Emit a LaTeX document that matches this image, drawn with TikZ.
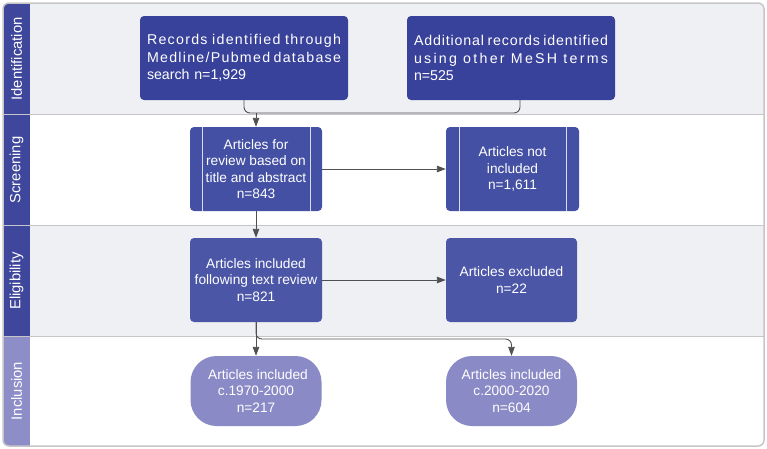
\documentclass[tikz,border=0pt]{standalone}
\usepackage{fontspec}
\setmainfont{Liberation Sans}
\usetikzlibrary{arrows.meta,calc}
\definecolor{lanegray}{HTML}{EFF0F4}
\definecolor{laneline}{HTML}{C6C6C8}
\definecolor{labdark}{HTML}{3E479C}
\definecolor{lablight}{HTML}{8D8DC8}
\definecolor{boxA}{HTML}{39429A}
\definecolor{boxC}{HTML}{4450A3}
\definecolor{boxE}{HTML}{4B56A7}
\definecolor{boxG}{HTML}{8A8AC6}
\definecolor{conncol}{HTML}{505050}
\tikzset{
  lanelabel/.style={rotate=90,text=white,font=\fontsize{14.8}{16}\selectfont},
  basebox/.style={text=white,inner sep=0pt,align=center,font=\fontsize{13.7}{16.5}\selectfont,rounded corners=4pt},
  topbox/.style={basebox,fill=boxA,minimum width=208pt,minimum height=84pt,align=left,text width=194pt,font=\fontsize{14.2}{17.6}\selectfont},
  midbox/.style={basebox,fill=#1,minimum width=132pt,minimum height=84pt},
  incbox/.style={basebox,fill=boxG,minimum width=131pt,minimum height=70pt,rounded corners=26pt},
  conn/.style={draw=conncol,line width=0.9pt},
  arr/.style={conn,-{Triangle[length=9pt,width=6.5pt]}},
  pline/.style={draw=white!80!boxC,line width=0.6pt}
}
\newcommand{\spline}[2]{\leavevmode\hbox to 194pt{\addfontfeature{LetterSpace=#1}#2}}
\begin{document}
\begin{tikzpicture}[x=1pt,y=-1pt]
\useasboundingbox (0,0) rectangle (767,448);
% lanes
\begin{scope}
\clip[rounded corners=6pt] (3,3) rectangle (764,446);
\fill[lanegray] (3,3) rectangle (764,114);
\fill[white] (3,114) rectangle (764,225);
\fill[lanegray] (3,225) rectangle (764,336);
\fill[white] (3,336) rectangle (764,446);
\fill[labdark] (3,3) rectangle (30,114);
\fill[labdark] (3,114) rectangle (30,225);
\fill[labdark] (3,225) rectangle (30,336);
\fill[lablight] (3,336) rectangle (30,446);
\draw[laneline,line width=1.5pt] (3,114.5) -- (764,114.5);
\draw[laneline,line width=1.5pt] (3,225.5) -- (764,225.5);
\draw[laneline,line width=1.5pt] (3,336.5) -- (764,336.5);
\end{scope}
\draw[laneline,line width=1.5pt,rounded corners=6pt] (3,3) rectangle (764,446);
\node[lanelabel] (l1) at (16.5,59) {Identification};
\node[lanelabel] (l2) at (16.5,170) {Screening};
\node[lanelabel] (l3) at (16.5,281) {Eligibility};
\node[lanelabel] (l4) at (16.5,391) {Inclusion};
% boxes
\node[topbox] (A) at (244,58) {\spline{9}{Records\hfill identified\hfill through}\\\spline{9}{Medline/Pubmed\hfill database}\\search n=1,929};
\node[topbox] (B) at (511,58) {\spline{6}{Additional\hfill records\hfill identified}\\\spline{16}{using\hfill other\hfill MeSH\hfill terms}\\n=525};
\node[midbox=boxC] (C) at (256,169) {Articles for\\review based on\\title and abstract\\n=843};
\node[midbox=boxC,minimum width=133pt] (D) at (512.5,169) {Articles not\\included\\n=1,611};
\draw[pline] ([xshift=12pt]C.north west) -- ([xshift=12pt]C.south west);
\draw[pline] ([xshift=-12pt]C.north east) -- ([xshift=-12pt]C.south east);
\draw[pline] ([xshift=13pt]D.north west) -- ([xshift=13pt]D.south west);
\draw[pline] ([xshift=-13pt]D.north east) -- ([xshift=-13pt]D.south east);
\node[midbox=boxE] (E) at (256,280) {Articles included\\following text review\\n=821};
\node[midbox=boxE,minimum width=131pt] (F) at (511.5,280) {Articles excluded\\n=22};
\node[incbox] (G) at (256,391) {\hspace*{4pt}Articles included\\c.1970-2000\\n=217};
\node[incbox] (H) at (511.5,391) {Articles included\\c.2000-2020\\n=604};
% connectors
\coordinate (jA) at (256,113);
\coordinate (jB) at (520,113);
\coordinate (Bout) at (520,100);
\coordinate (jE) at (511.5,339);
\draw[conn,rounded corners=6pt] (A.south) |- (jB) -- (Bout);
\draw[arr] (jA) -- (C.north);
\draw[arr] (C.east) -- (D.west);
\draw[arr] (C.south) -- (E.north);
\draw[arr] (E.east) -- (F.west);
\draw[arr] (E.south) -- (G.north);
\draw[arr,rounded corners=6pt] (E.south) |- (jE) -- (H.north);
\end{tikzpicture}
\end{document}
